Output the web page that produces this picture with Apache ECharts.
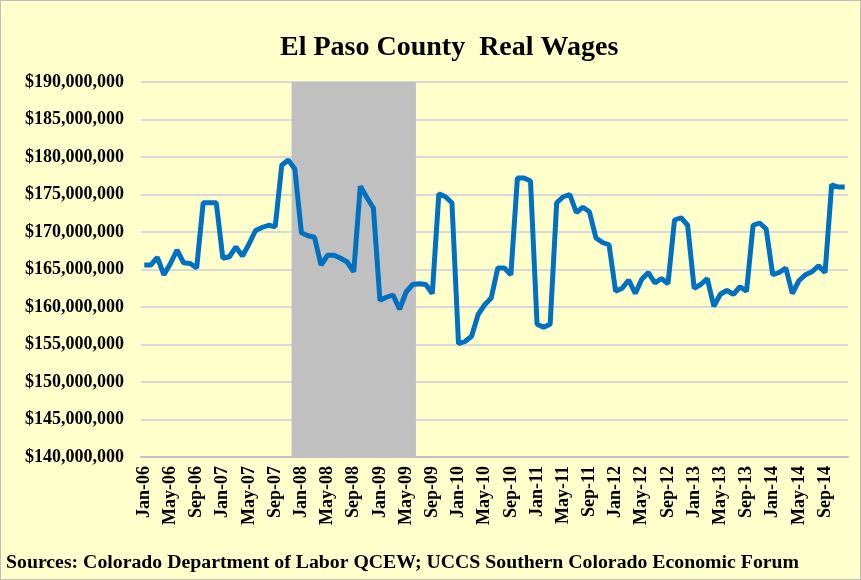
<!DOCTYPE html>
<html>
<head>
<meta charset="utf-8">
<script src="https://cdn.jsdelivr.net/npm/echarts@6/dist/echarts.min.js"></script>
<style>
  html, body { margin: 0; padding: 0; background: #ffffcc; }
  #chart { width: 861px; height: 580px; box-sizing: border-box; border: 1px solid #bfbfbf; }
</style>
</head>
<body>
<div id="chart"></div>
<script>
const monthNames = ['Jan', 'Feb', 'Mar', 'Apr', 'May', 'Jun', 'Jul', 'Aug', 'Sep', 'Oct', 'Nov', 'Dec'];
const years = ['06', '07', '08', '09', '10', '11', '12', '13', '14'];

// monthly real wages, millions of dollars, Jan-06 .. Dec-14
const wages2006 = [165.6, 165.6, 166.6, 164.3, 165.8, 167.6, 165.9, 165.8, 165.2, 173.9, 173.9, 173.9];
const wages2007 = [166.5, 166.7, 168.0, 166.8, 168.4, 170.2, 170.6, 170.9, 170.7, 178.9, 179.6, 178.4];
const wages2008 = [169.9, 169.5, 169.3, 165.6, 166.9, 166.9, 166.5, 166.0, 164.7, 176.1, 174.6, 173.2];
const wages2009 = [160.9, 161.3, 161.6, 159.7, 162.0, 163.0, 163.1, 163.0, 161.8, 175.1, 174.7, 173.9];
const wages2010 = [155.1, 155.4, 156.1, 159.0, 160.3, 161.2, 165.2, 165.2, 164.3, 177.2, 177.2, 176.8];
const wages2011 = [157.7, 157.3, 157.7, 173.9, 174.7, 175.0, 172.6, 173.3, 172.7, 169.2, 168.6, 168.3];
const wages2012 = [162.1, 162.5, 163.6, 161.8, 163.7, 164.6, 163.2, 163.8, 163.1, 171.6, 171.9, 170.9];
const wages2013 = [162.5, 163.0, 163.8, 160.1, 161.7, 162.2, 161.7, 162.7, 162.1, 170.9, 171.2, 170.4];
const wages2014 = [164.3, 164.6, 165.2, 161.8, 163.5, 164.3, 164.7, 165.5, 164.6, 176.3, 176.0, 176.0];

// shaded recession months (inclusive)
const recessionStart = 'Dec-07';
const recessionEnd = 'Jun-09';

const yMin = 140000000;
const yMax = 190000000;
const yStep = 5000000;

const title = 'El Paso County  Real Wages';
const source = 'Sources: Colorado Department of Labor QCEW; UCCS Southern Colorado Economic Forum';

const categories = [];
years.forEach(y => monthNames.forEach(m => categories.push(m + '-' + y)));

const wages = [].concat(wages2006, wages2007, wages2008, wages2009, wages2010,
  wages2011, wages2012, wages2013, wages2014).map(v => Math.round(v * 1000000));

const i0 = categories.indexOf(recessionStart);
const i1 = categories.indexOf(recessionEnd);

const serif = "'Liberation Serif', 'Times New Roman', serif";

const chart = echarts.init(document.getElementById('chart'));
chart.setOption({
  backgroundColor: '#ffffcc',
  animation: false,
  title: [
    {
      text: title,
      left: 279,
      top: 33,
      padding: 0,
      textStyle: { fontFamily: serif, fontWeight: 'bold', fontSize: 28, color: '#000' }
    },
    {
      text: source,
      left: 5,
      top: 552,
      padding: 0,
      textStyle: { fontFamily: serif, fontWeight: 'bold', fontSize: 19.8, color: '#000' }
    }
  ],
  grid: { left: 140, right: 12, top: 81, bottom: 122 },
  xAxis: [
    {
      type: 'category',
      data: categories,
      boundaryGap: true,
      axisLine: { lineStyle: { color: '#bfbfbf', width: 2 } },
      axisTick: { interval: 3, length: 5, lineStyle: { color: '#bfbfbf', width: 1 } },
      axisLabel: {
        interval: 3,
        rotate: 90,
        margin: 9,
        fontFamily: serif,
        fontWeight: 'bold',
        fontSize: 18,
        color: '#000'
      },
      splitLine: { show: false }
    },
    {
      // month-index axis, used only to place the recession band on month edges
      type: 'value',
      min: 0,
      max: categories.length,
      show: false
    }
  ],
  yAxis: {
    type: 'value',
    min: yMin,
    max: yMax,
    interval: yStep,
    axisLine: { show: false },
    axisTick: { show: false },
    axisLabel: {
      margin: 17,
      fontFamily: serif,
      fontWeight: 'bold',
      fontSize: 18,
      color: '#000',
      formatter: v => '$' + v.toLocaleString('en-US')
    },
    splitLine: { lineStyle: { color: '#d9d9d9', width: 2 } }
  },
  series: [
    {
      name: 'Recession',
      type: 'line',
      xAxisIndex: 1,
      data: [],
      silent: true,
      z: 1,
      markArea: {
        silent: true,
        itemStyle: { color: '#c0c0c0', opacity: 1 },
        data: [[{ xAxis: i0 }, { xAxis: i1 + 1 }]]
      }
    },
    {
      name: 'Real Wages',
      type: 'line',
      data: wages,
      showSymbol: false,
      lineStyle: { color: '#0070c0', width: 5 },
      z: 3
    }
  ]
});
</script>
</body>
</html>
